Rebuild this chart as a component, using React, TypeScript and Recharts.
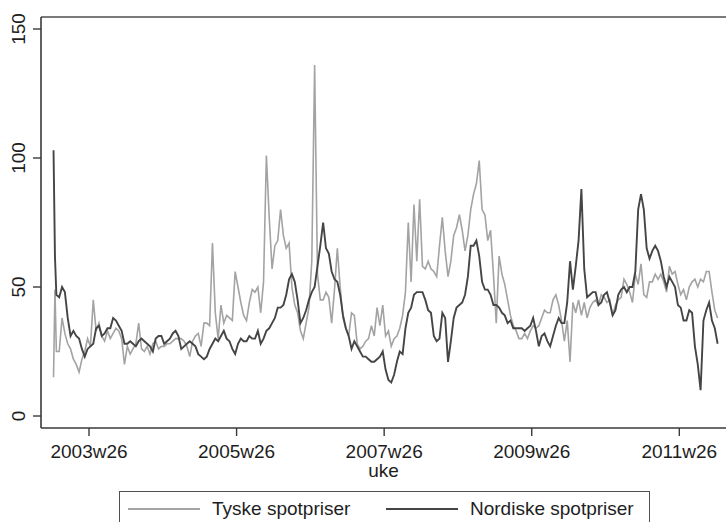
import React from 'react';
import { LineChart, Line, XAxis, YAxis, ReferenceLine } from 'recharts';

// Week index: 0 = 2003w1, 52 weeks per year (Stata weekly calendar).
const weeks: number[] = [0, 1, ...Array.from({ length: 234 }, (_, i) => 2 + 2 * i)];

// Tyske spotpriser (EUR/MWh)
const tyske: number[] = [
  15, 49, 25,
  25, 38, 32, 28, 26, 22, 20, 17, 22, 25,
  30, 27, 45, 33, 36, 31, 29, 33, 30, 32,
  34, 33, 30, 20, 27, 24, 26, 28, 36, 26,
  25, 27, 24, 28, 29, 26, 27, 27, 28, 28,
  29, 30, 30, 30, 29, 27, 23, 29, 31, 32,
  27, 36, 36, 35, 67, 40, 30, 43, 36, 39,
  38, 37, 56, 50, 44, 39, 37, 44, 49, 48,
  50, 40, 52, 101, 77, 57, 66, 68, 80, 70,
  65, 67, 50, 43, 40, 33, 30, 36, 42, 60,
  136, 55, 45, 45, 48, 46, 36, 49, 65, 50,
  38, 34, 31, 40, 39, 28, 26, 27, 29, 30,
  35, 31, 42, 35, 43, 31, 33, 27, 30, 31,
  34, 39, 48, 75, 52, 82, 60, 84, 58, 57,
  60, 57, 56, 54, 66, 77, 64, 54, 60, 70,
  73, 78, 72, 64, 70, 80, 86, 90, 99, 80,
  78, 68, 72, 55, 36, 62, 55, 51, 45, 39,
  35, 33, 30, 30, 32, 30, 33, 35, 34, 35,
  38, 41, 40, 40, 45, 47, 43, 37, 29, 37,
  21, 44, 40, 45, 39, 44, 38, 42, 44, 45,
  43, 47, 46, 44, 45, 39, 43, 45, 46, 53,
  51, 48, 44, 55, 51, 59, 47, 46, 52, 52,
  55, 53, 55, 52, 48, 58, 55, 56, 51, 47,
  49, 45, 50, 52, 53, 50, 53, 52, 56, 56,
  48, 41, 38,
];

// Nordiske spotpriser (EUR/MWh)
const nordiske: number[] = [
  103, 62, 47,
  46, 50, 48, 38, 31, 33, 31, 30, 26, 23,
  26, 27, 28, 34, 35, 31, 32, 34, 34, 38,
  37, 35, 33, 28, 28, 29, 28, 27, 29, 30,
  29, 28, 27, 25, 30, 31, 31, 28, 29, 30,
  32, 33, 31, 26, 27, 28, 29, 28, 27, 24,
  23, 22, 23, 26, 28, 30, 29, 31, 33, 30,
  29, 26, 24, 28, 30, 29, 29, 31, 30, 30,
  33, 28, 30, 33, 34, 36, 38, 42, 42, 43,
  47, 53, 55, 52, 45, 36, 38, 41, 45, 48,
  50, 58, 66, 75, 65, 63, 56, 53, 52, 47,
  39, 34, 31, 26, 29, 27, 25, 23, 23, 22,
  21, 21, 22, 23, 25, 18, 14, 13, 16, 21,
  25, 24, 34, 40, 42, 47, 48, 48, 48, 45,
  41, 40, 31, 29, 30, 40, 38, 21, 29, 38,
  42, 43, 44, 47, 54, 66, 66, 68, 62, 52,
  49, 49, 47, 43, 43, 42, 40, 39, 36, 37,
  34, 34, 34, 34, 33, 34, 35, 38, 33, 27,
  31, 32, 29, 27, 31, 35, 38, 36, 36, 44,
  60, 49, 58, 68, 88, 57, 46, 47, 48, 48,
  43, 44, 47, 48, 44, 39, 41, 47, 49, 50,
  48, 50, 50, 56, 80, 86, 80, 65, 61, 64,
  66, 64, 60, 54, 50, 54, 52, 50, 43, 42,
  37, 37, 41, 40, 27, 20, 10, 37, 41, 44,
  37, 34, 28,
];

const xTicks: number[] = [25, 129, 233, 337, 441];
const xTickLabels: string[] = ['2003w26', '2005w26', '2007w26', '2009w26', '2011w26'];
const yTicks: number[] = [0, 50, 100, 150];

const seriesNames = ['Tyske spotpriser', 'Nordiske spotpriser'];
const LIGHT = '#a3a3a3';
const DARK = '#454545';
const FONT = '"Liberation Sans", Arial, sans-serif';
const TEXT = '#1e1e1e';

const data = weeks.map((w, i) => ({ week: w, tyske: tyske[i], nordiske: nordiske[i] }));

const XTick = (props: any) => {
  const { x, payload } = props;
  const idx = xTicks.indexOf(payload.value);
  return (
    <text x={x} y={458} textAnchor="middle" fontSize={19} fontFamily={FONT} fill={TEXT}>
      {idx >= 0 ? xTickLabels[idx] : payload.value}
    </text>
  );
};

const YTick = (props: any) => {
  const { y, payload } = props;
  return (
    <text
      x={25}
      y={y}
      transform={`rotate(-90 25 ${y})`}
      textAnchor="middle"
      fontSize={19}
      fontFamily={FONT}
      fill={TEXT}
    >
      {payload.value}
    </text>
  );
};

export default function App() {
  return (
    <div style={{ position: 'absolute', left: 0, top: 0, width: 726, height: 522, background: '#fff', overflow: 'hidden' }}>
      <LineChart width={726} height={522} data={data} margin={{ top: 17, right: 0, bottom: 0, left: 0 }}>
        <XAxis
          dataKey="week"
          type="number"
          domain={[-8.83, 473.9]}
          allowDataOverflow
          ticks={xTicks}
          tick={<XTick />}
          tickSize={8}
          height={94}
          axisLine={{ stroke: '#3a3a3a', strokeWidth: 1.6 }}
          tickLine={{ stroke: '#3a3a3a', strokeWidth: 1.4 }}
          interval={0}
        />
        <YAxis
          type="number"
          domain={[-4.65, 154.65]}
          allowDataOverflow
          ticks={yTicks}
          tick={<YTick />}
          tickSize={8}
          width={41}
          axisLine={{ stroke: '#3a3a3a', strokeWidth: 1.6 }}
          tickLine={{ stroke: '#3a3a3a', strokeWidth: 1.4 }}
          interval={0}
        />
        <ReferenceLine y={154.65} stroke="#7a7a7a" strokeWidth={2} ifOverflow="visible" />
        <Line
          type="linear"
          dataKey="tyske"
          name={seriesNames[0]}
          stroke={LIGHT}
          strokeWidth={1.6}
          dot={false}
          isAnimationActive={false}
        />
        <Line
          type="linear"
          dataKey="nordiske"
          name={seriesNames[1]}
          stroke={DARK}
          strokeWidth={1.9}
          dot={false}
          isAnimationActive={false}
        />
      </LineChart>
      <div
        style={{
          position: 'absolute',
          left: 383.5,
          top: 461,
          transform: 'translateX(-50%)',
          fontFamily: FONT,
          fontSize: 19,
          color: TEXT,
          lineHeight: '19px',
        }}
      >
        uke
      </div>
      <div
        style={{
          position: 'absolute',
          left: 119,
          top: 491,
          width: 531,
          height: 60,
          boxSizing: 'border-box',
          border: '1.6px solid #505050',
          fontFamily: FONT,
          fontSize: 19,
          color: TEXT,
        }}
      >
        <svg width={531} height={40} style={{ position: 'absolute', left: 0, top: 0 }}>
          <line x1={8} x2={80} y1={17} y2={17} stroke={LIGHT} strokeWidth={1.8} />
          <line x1={266} x2={338} y1={17} y2={17} stroke={DARK} strokeWidth={1.9} />
          <text x={92} y={23} fontFamily={FONT} fontSize={19} fill={TEXT}>{seriesNames[0]}</text>
          <text x={350} y={23} fontFamily={FONT} fontSize={19} fill={TEXT}>{seriesNames[1]}</text>
        </svg>
      </div>
    </div>
  );
}
